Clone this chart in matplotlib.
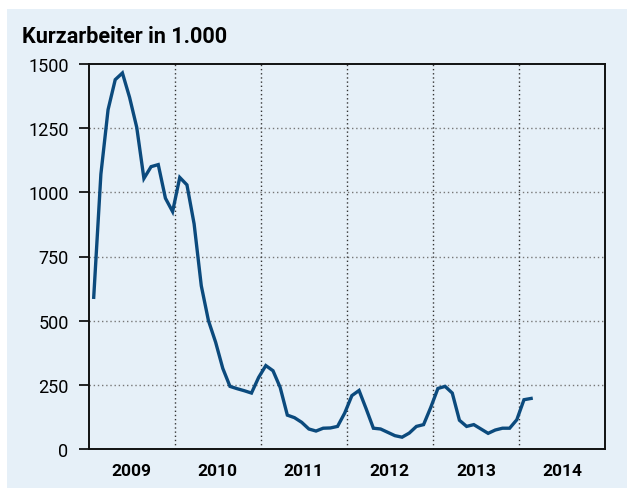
import numpy as np
import matplotlib.pyplot as plt
from matplotlib.patches import Rectangle

plt.rcParams['font.family'] = ['Roboto', 'DejaVu Sans']

# Kurzarbeiter in 1.000, monthly Jan 2009 - Feb 2014
years = [2009, 2010, 2011, 2012, 2013, 2014]
values = {
    2009: [591, 1071, 1322, 1439, 1465, 1370, 1253, 1054, 1100, 1108, 977, 925],
    2010: [1058, 1029, 877, 636, 500, 416, 314, 244, 235, 227, 218, 279],
    2011: [325, 305, 240, 132, 122, 104, 78, 70, 81, 82, 88, 140],
    2012: [208, 228, 156, 81, 78, 65, 52, 46, 62, 88, 95, 162],
    2013: [236, 244, 218, 112, 88, 95, 78, 61, 74, 81, 81, 114],
    2014: [192, 197],
}
yticks = [0, 250, 500, 750, 1000, 1250, 1500]

bg = '#e6f0f8'
line_col = '#0b4a7d'

x, y = [], []
for yr in years:
    for m, v in enumerate(values[yr]):
        x.append(yr + (m + 0.7) / 12)
        y.append(v)

fig = plt.figure(figsize=(6.27, 4.89), dpi=100)
fig.patch.set_facecolor('white')
fig.patches.append(Rectangle((7 / 627, 0), 1, 1 - 10 / 489, transform=fig.transFigure,
                             facecolor=bg, edgecolor='none', zorder=-1))

ax = fig.add_axes([88.7 / 627, 1 - 450 / 489, (605 - 88.7) / 627, (450 - 65) / 489])
ax.set_zorder(2)
ax.set_facecolor(bg)
ax.plot(x, y, color=line_col, lw=2.4, zorder=3, solid_joinstyle='miter')

ax.set_xlim(2009, 2015)
ax.set_ylim(0, 1500)

ax.set_yticks(yticks)
ax.set_yticklabels([str(t) for t in yticks], fontsize=13)
ax.tick_params(axis='y', direction='out', length=7.5, width=1.2, pad=7)

ax.set_xticks(years[1:])
ax.set_xticklabels([])
ax.set_xticks([yr + 0.5 for yr in years], minor=True)
ax.set_xticklabels([str(yr) for yr in years], minor=True, fontsize=12.5, fontweight='bold')
ax.tick_params(axis='x', which='both', length=0, pad=10)

for t in yticks[1:-1]:
    ax.axhline(t, color='#777777', lw=1, ls=(0, (1, 2)), zorder=1)
for yr in years[1:]:
    ax.axvline(yr, color='#333333', lw=1, ls=(0, (1, 2)), zorder=1)

for s in ax.spines.values():
    s.set_linewidth(1.4)
    s.set_color('#111111')

fig.text(22 / 627, 1 - 37 / 489, 'Kurzarbeiter in 1.000', fontsize=15.6, fontweight='bold',
         va='center', ha='left')

fig.savefig('out.png', dpi=100)
